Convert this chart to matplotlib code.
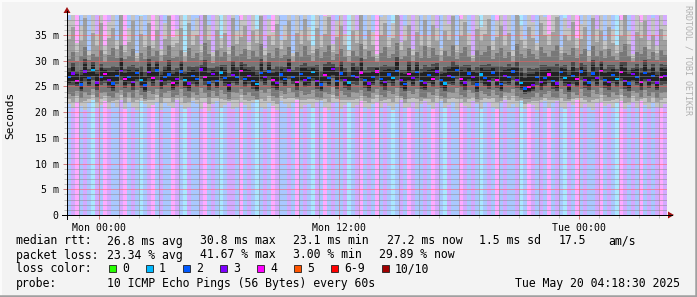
import numpy as np
import matplotlib
matplotlib.use('Agg')
import matplotlib.pyplot as plt
import matplotlib.dates as mdates
import pandas as pd
from matplotlib.colors import ListedColormap, to_rgb
from matplotlib.patches import Polygon, Rectangle
from matplotlib.ticker import FuncFormatter

plt.rcParams['font.family'] = ['DejaVu Sans Mono']

# ---------------- data ----------------
start_time = '2025-05-18 22:22:30'
step_minutes = 12

loss = [2,3,4,2,3,2,1,3,2,4,3,2,2,3,4,
        2,3,2,1,2,3,4,2,3,2,2,4,3,2,1,
        3,2,2,3,4,2,3,2,1,2,3,3,2,4,2,
        3,2,1,2,3,2,4,3,2,2,3,2,4,2,3,
        2,1,3,2,4,2,3,2,2,3,1,2,3,4,2,
        3,2,4,2,3,2,1,2,3,2,4,3,2,2,3,
        2,4,3,2,1,3,2,2,4,3,2,3,2,1,2,
        3,2,4,2,3,2,2,3,1,2,4,3,2,3,2,
        4,2,3,2,1,3,2,4,2,3,2,2,3,4,2,
        3,2,1,4,3,2,3,2,4,2,3,2,3,4,3]

med = [26.8,27.5,26.1,25.4,27.9,26.6,28.2,25.8,26.9,27.4,26.2,25.6,27.1,28.0,26.4,
       26.9,25.9,27.6,26.3,25.2,27.8,26.7,28.1,26.0,26.8,27.3,25.7,26.5,27.9,26.2,
       25.6,27.0,26.4,28.3,26.9,25.8,27.4,26.1,27.7,26.6,25.3,27.2,26.8,28.0,26.5,
       27.1,26.0,25.5,27.6,26.8,27.9,26.2,25.7,27.3,26.5,28.1,26.9,25.9,27.4,26.3,
       26.7,27.8,26.1,25.4,27.2,26.6,28.4,26.0,27.5,26.3,25.8,27.1,26.9,27.7,26.2,
       25.6,26.8,27.9,26.4,25.9,27.3,26.7,28.0,26.2,25.5,27.4,26.6,27.8,26.1,25.7,
       27.2,26.5,27.9,26.3,25.6,27.0,26.8,28.2,26.4,25.8,27.5,26.9,25.4,27.3,26.6,
       26.0,27.7,26.3,25.5,27.1,26.8,27.9,26.2,25.7,24.6,24.9,25.3,26.9,25.9,26.6,
       27.3,26.1,25.6,27.8,26.7,25.3,27.0,26.4,27.9,26.2,25.8,27.5,26.6,28.0,26.3,
       25.9,27.2,26.5,27.8,26.1,25.6,27.4,26.8,25.9,27.6,26.3,27.1,25.8,26.9,27.0]

ping_min = [21.5,20.8,22.0,21.2,20.5,21.8,22.3,20.9,21.4,22.1,20.6,21.7,21.0,22.4,20.7,
            21.9,21.1,20.4,22.2,21.6,20.8,21.3,22.0,20.5,21.8,21.2,20.9,22.3,21.4,20.6,
            21.0,22.1,21.5,20.7,21.9,20.3,21.6,22.2,20.8,21.3,21.9,20.6,21.1,22.0,21.4,
            20.5,21.8,22.3,21.0,20.6,21.7,21.2,20.4,22.1,21.5,20.9,21.8,22.4,20.7,21.3,
            21.6,20.8,21.9,22.2,21.1,20.5,21.7,22.0,20.6,21.4,21.9,20.8,21.3,22.1,21.0,
            20.7,21.5,22.0,20.9,21.8,21.2,20.4,21.6,22.3,20.8,21.1,21.9,20.6,21.5,22.2,
            21.3,20.6,21.8,22.1,20.9,21.4,22.0,20.5,21.7,21.2,20.8,22.2,21.5,20.7,21.9,
            22.0,21.1,20.6,21.8,22.3,20.9,21.5,21.0,22.1,20.7,21.6,21.3,20.5,21.9,22.2,
            20.8,21.7,22.2,21.0,20.6,21.9,21.4,22.3,20.9,21.6,21.1,20.5,21.8,22.0,21.2,
            21.5,20.9,21.7,22.1,20.6,21.3,21.9,20.8,22.2,21.4,20.7,21.8,21.1,20.9,21.6]

ping_q1 = [23.6,23.1,24.2,22.8,23.9,23.4,24.5,22.9,23.7,24.0,23.2,22.7,23.8,24.4,23.0,
           23.9,22.8,24.3,23.3,22.6,24.1,23.5,24.6,23.0,23.8,24.2,22.9,23.4,24.5,23.1,
           22.8,23.9,23.4,24.7,23.8,22.9,24.1,23.2,24.4,23.6,22.5,24.0,23.7,24.6,23.3,
           24.0,23.1,22.6,24.3,23.7,24.5,23.2,22.8,24.1,23.5,24.8,23.9,22.9,24.2,23.4,
           23.6,24.4,23.0,22.7,24.0,23.5,24.9,23.1,24.2,23.3,22.9,24.0,23.8,24.3,23.2,
           22.8,23.7,24.5,23.4,22.9,24.1,23.6,24.7,23.2,22.6,24.2,23.5,24.5,23.0,22.8,
           24.0,23.4,24.6,23.2,22.7,23.9,23.7,24.8,23.4,22.9,24.3,23.8,22.6,24.1,23.5,
           23.1,24.4,23.3,22.7,24.0,23.7,24.6,23.2,22.8,22.6,22.5,22.9,23.8,22.9,23.5,
           24.1,23.0,22.7,24.5,23.6,22.5,23.9,23.3,24.6,23.2,22.9,24.3,23.5,24.7,23.3,
           22.9,24.0,23.4,24.5,23.1,22.7,24.2,23.7,22.9,24.3,23.2,24.0,22.8,23.8,23.9]

ping_q3 = [30.4,31.8,29.9,30.9,32.6,30.2,31.4,30.7,32.0,29.8,31.1,32.4,30.5,33.1,30.3,
           31.0,32.3,29.7,31.6,30.4,32.8,30.9,31.9,29.9,31.2,33.0,30.6,30.8,32.1,29.8,
           32.5,30.6,31.5,30.1,33.4,31.3,29.6,32.0,30.7,31.7,29.9,32.9,30.9,31.4,32.2,
           30.3,31.9,30.8,33.2,29.8,31.6,30.5,32.4,30.6,31.2,32.7,29.7,31.8,30.8,32.9,
           31.1,30.0,32.2,30.6,31.7,33.0,30.2,31.4,32.3,30.7,29.8,31.9,30.9,33.3,30.4,
           31.9,30.7,29.8,31.5,32.6,30.5,31.3,33.5,30.4,31.0,32.5,29.9,31.8,30.6,32.8,
           30.5,32.4,31.2,29.9,31.9,31.0,33.1,30.3,31.6,32.7,30.8,29.7,32.1,31.1,31.7,
           32.9,30.4,31.5,32.4,30.6,31.8,29.8,33.2,31.3,30.5,32.2,31.4,30.3,32.6,31.6,
           30.8,31.9,33.0,30.2,31.6,31.1,32.5,30.6,31.4,32.3,29.8,32.8,31.0,31.9,30.5,
           32.3,31.0,30.2,31.7,33.3,30.9,29.7,31.8,31.3,32.6,30.4,31.7,30.1,32.0,31.2]

ping_max = [38.0,41.2,33.5,36.8,44.0,31.9,39.5,35.2,42.7,32.8,37.6,40.3,34.1,45.0,33.0,
            36.4,43.1,31.5,38.7,35.0,41.8,33.9,39.9,32.2,37.3,44.5,34.6,36.1,40.8,31.8,
            42.3,35.7,38.4,33.2,45.5,36.9,31.7,40.1,34.4,39.2,32.6,43.6,35.8,37.9,41.4,
            33.7,39.6,36.2,44.2,32.4,38.1,35.5,41.9,34.0,37.0,42.8,31.6,39.0,35.9,43.3,
            36.6,32.9,40.6,34.8,38.8,43.9,33.3,37.7,41.1,35.3,32.1,39.7,36.0,44.8,34.2,
            40.0,35.6,31.4,38.5,42.0,34.7,37.4,45.2,33.6,36.7,41.5,32.3,39.3,35.1,43.0,
            34.9,41.6,36.3,32.5,39.8,37.1,44.3,33.1,38.2,42.5,35.4,31.2,40.4,36.5,38.9,
            43.5,33.8,37.8,41.3,35.0,39.1,32.0,44.6,36.8,34.3,40.9,37.5,33.4,42.2,38.6,
            35.2,39.4,44.1,32.7,38.3,36.4,42.6,34.5,37.2,40.7,31.9,43.8,36.2,39.6,33.9,
            41.0,36.1,33.0,38.0,44.9,35.7,31.3,39.5,37.6,42.9,34.1,38.4,32.8,40.2,36.9]

yticks_ms = [0, 5, 10, 15, 20, 25, 30, 35]
xtick_times = ['2025-05-19 00:00', '2025-05-19 12:00', '2025-05-20 00:00']

loss_colors = {0: '#26ff00', 1: '#00b8ff', 2: '#0059ff', 3: '#7e00ff',
               4: '#ff00ff', 5: '#ff5500', 6: '#ff0000', 10: '#a10000'}
legend_labels = [(0, '0'), (1, '1'), (2, '2'), (3, '3'), (4, '4'), (5, '5'), (6, '6-9'), (10, '10/10')]

# ---------------- derived ----------------
loss = np.array(loss)
med = np.array(med); lo = np.array(ping_min); hi = np.array(ping_max)
q1 = np.array(ping_q1); q3 = np.array(ping_q3)
n = len(med)
times = pd.date_range(start_time, periods=n + 1, freq=f'{step_minutes}min')
xe = mdates.date2num(times)
x = xe[:-1]
w = step_minutes / 1440.0

W, H = 697, 297
fig = plt.figure(figsize=(W / 100, H / 100), dpi=100, facecolor='#f3f3f3')
ax = fig.add_axes([67 / W, 82 / H, 600 / W, 200.5 / H])
ax.set_facecolor('white')
ymax = 39.0

def pastel(c):
    r, g, b = to_rgb(c)
    return (r / 3 + 2 / 3, g / 3 + 2 / 3, b / 3 + 2 / 3)

bg_list = [pastel(loss_colors[k]) for k in range(5)]
cmap = ListedColormap(bg_list)
ax.pcolormesh(xe, [0, ymax], loss[None, :].astype(float), cmap=cmap, vmin=-0.5, vmax=4.5,
              shading='flat', zorder=0.5, antialiased=False, edgecolors='none')

def step_fill(low, high, color, z):
    lo_e = np.append(low, low[-1]); hi_e = np.append(high, high[-1])
    ax.fill_between(xe, lo_e, hi_e, step='post', color=color, lw=0, zorder=z)

step_fill(lo, hi, '#c4c4c4', 1.0)
step_fill((lo + q1) / 2, (q3 + hi) / 2, '#a0a0a0', 1.1)
step_fill(q1, q3, '#787878', 1.2)
step_fill((q1 + med) / 2, (med + q3) / 2, '#4a4a4a', 1.3)
step_fill(med - (med - q1) / 3, med + (q3 - med) / 3, '#222222', 1.4)

ax.bar(x, 0.45, bottom=med - 0.225, width=w, align='edge',
       color=[loss_colors[k] for k in loss], lw=0, zorder=1.6)

ax.set_xlim(xe[0], xe[-1])
ax.set_ylim(0, ymax)

# grid
ax.set_yticks(yticks_ms)
ax.set_yticks(np.arange(0, ymax, 1), minor=True)
ax.yaxis.set_major_formatter(FuncFormatter(lambda v, p: '0' if v == 0 else f'{int(v)} m'))
ax.set_xticks(mdates.date2num(pd.to_datetime(xtick_times)))
ax.xaxis.set_minor_locator(mdates.HourLocator(interval=1))
ax.xaxis.set_major_formatter(mdates.DateFormatter('%a %H:%M'))
ax.set_axisbelow(False)
ax.grid(which='minor', color=(0.55, 0.55, 0.55, 0.35), linestyle=(0, (1, 1)), lw=0.72)
ax.grid(which='major', color=(1.0, 0.35, 0.35, 0.4), linestyle=(0, (1, 1)), lw=0.72)

ax.tick_params(axis='both', which='major', length=3, width=0.72, color='#d08080',
               labelsize=7.1, labelcolor='#000000')
ax.tick_params(axis='both', which='minor', length=2, width=0.72, color='#c0c0c0')
ax.tick_params(axis='y', pad=3)
ax.tick_params(axis='x', pad=3)

for s in ax.spines.values():
    s.set_visible(False)

# axis lines and arrows (pixel coords)
def px(xp, yp):
    return (xp / W, 1 - yp / H)

fig.add_artist(plt.Line2D([px(62, 0)[0], px(672, 0)[0]], [px(0, 215)[1]] * 2, color='black', lw=0.72))
fig.add_artist(plt.Line2D([px(67, 0)[0]] * 2, [px(0, 219)[1], px(0, 11)[1]], color='black', lw=0.72))
fig.add_artist(Polygon([px(668, 211.5), px(668, 218.5), px(674, 215)], closed=True,
                       transform=fig.transFigure, color='#a01010', lw=0))
fig.add_artist(Polygon([px(63.5, 13), px(70.5, 13), px(67, 7)], closed=True,
                       transform=fig.transFigure, color='#a01010', lw=0))

# labels
fig.text(10 / W, 1 - 115 / H, 'Seconds', rotation=90, ha='center', va='center', fontsize=8)
fig.text(688 / W, 1 - 5 / H, 'RRDTOOL / TOBI OETIKER', rotation=270, ha='center', va='top',
         fontsize=6, color='#b0b0b0')

fs = 8.3
def t(xp, yb, s, **kw):
    fig.text(xp / W, 1 - yb / H, s, fontsize=fs, va='baseline', **kw)

r1, r2, r3, r4 = 244.5, 258.5, 272.5, 286.5
t(16, r1, 'median rtt:')
t(107, r1, '26.8 ms avg'); t(200, r1, '30.8 ms max'); t(293, r1, '23.1 ms min')
t(387, r1, '27.2 ms now'); t(479, r1, '1.5 ms sd'); t(559, r1, '17.5'); t(608, r1, 'am/s')
t(16, r2, 'packet loss:')
t(107, r2, '23.34 % avg'); t(200, r2, '41.67 % max'); t(293, r2, '3.00 % min'); t(379, r2, '29.89 % now')
t(16, r3, 'loss color:')
sw_x = [109, 146, 183, 220, 257, 294, 331, 382]
for (k, lab), sx in zip(legend_labels, sw_x):
    fig.add_artist(Rectangle(px(sx, 272), 7 / W, 7 / H, transform=fig.transFigure,
                             facecolor=loss_colors[k], edgecolor='#202020', lw=0.6))
    t(sx + 13, r3, lab)
t(16, r4, 'probe:')
t(107, r4, '10 ICMP Echo Pings (56 Bytes) every 60s')
t(680, r4, 'Tue May 20 04:18:30 2025', ha='right')

# 3D frame
fig.add_artist(plt.Line2D([0, 1], [1 - 1 / H] * 2, color='#fcfcfc', lw=1.4))
fig.add_artist(plt.Line2D([0.5 / W] * 2, [0, 1], color='#fcfcfc', lw=1.4))
fig.add_artist(plt.Line2D([0, 1], [1.2 / H] * 2, color='#a0a0a0', lw=1.8))
fig.add_artist(plt.Line2D([1 - 1.2 / W] * 2, [0, 1], color='#a0a0a0', lw=1.8))

fig.savefig('out.png', dpi=100, facecolor=fig.get_facecolor())
